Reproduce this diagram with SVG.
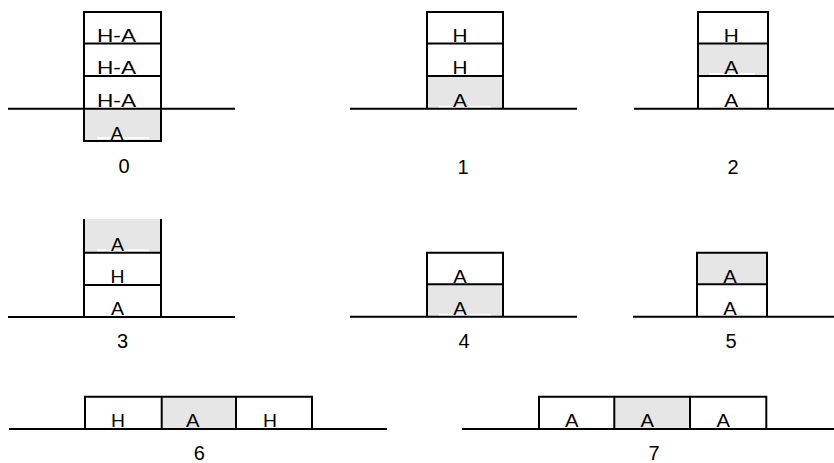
<svg xmlns="http://www.w3.org/2000/svg" width="834" height="463" viewBox="0 0 834 463">
<style>
.bg{fill:#ffffff}
.sh{fill:#e6e6e6;stroke:none}
.ln{stroke:#000;stroke-width:2;fill:none}
.t{font-family:"Liberation Sans",Arial,sans-serif;font-size:19px;fill:#000;text-anchor:middle}
.lb{font-family:"Liberation Sans",Arial,sans-serif;font-size:20px;fill:#000;text-anchor:middle}
.wb{fill:#fff}
</style>
<rect class="bg" x="0" y="0" width="834" height="463"/>

<g id="fig0">
<rect class="sh" x="84" y="109" width="77" height="32"/>
<rect class="wb" x="97" y="137" width="52" height="2"/>
<rect class="ln" x="84" y="12" width="77" height="129"/>
<line class="ln" x1="84" y1="43.5" x2="161" y2="43.5"/>
<line class="ln" x1="84" y1="76" x2="161" y2="76"/>
<line class="ln" x1="8" y1="108.7" x2="235" y2="108.7"/>
<text class="t" x="116.5" y="41.5" textLength="39" lengthAdjust="spacingAndGlyphs">H-A</text>
<text class="t" x="116.5" y="74" textLength="39" lengthAdjust="spacingAndGlyphs">H-A</text>
<text class="t" x="116.5" y="106.5" textLength="39" lengthAdjust="spacingAndGlyphs">H-A</text>
<text class="t" x="117" y="139.5" textLength="13" lengthAdjust="spacingAndGlyphs">A</text>
<text class="lb" x="124" y="173">0</text>
</g>

<g id="fig1">
<rect class="sh" x="427" y="76" width="76" height="32.7"/>
<rect class="wb" x="439" y="106" width="52" height="2"/>
<polyline class="ln" points="427,108.7 427,12 503,12 503,108.7"/>
<line class="ln" x1="427" y1="43.5" x2="503" y2="43.5"/>
<line class="ln" x1="427" y1="76" x2="503" y2="76"/>
<line class="ln" x1="350" y1="108.7" x2="577" y2="108.7"/>
<text class="t" x="460" y="41.5" textLength="15" lengthAdjust="spacingAndGlyphs">H</text>
<text class="t" x="460" y="74" textLength="15" lengthAdjust="spacingAndGlyphs">H</text>
<text class="t" x="460" y="106.5" textLength="14" lengthAdjust="spacingAndGlyphs">A</text>
<text class="lb" x="463" y="174">1</text>
</g>

<g id="fig2">
<rect class="sh" x="698" y="43.5" width="70" height="32.5"/>
<rect class="wb" x="709" y="73" width="46" height="2"/>
<polyline class="ln" points="698,108.7 698,12 768,12 768,108.7"/>
<line class="ln" x1="698" y1="43.5" x2="768" y2="43.5"/>
<line class="ln" x1="698" y1="76" x2="768" y2="76"/>
<line class="ln" x1="634" y1="108.7" x2="834" y2="108.7"/>
<text class="t" x="731.3" y="41.5" textLength="15" lengthAdjust="spacingAndGlyphs">H</text>
<text class="t" x="731.3" y="74" textLength="14" lengthAdjust="spacingAndGlyphs">A</text>
<text class="t" x="731.3" y="106.5" textLength="14" lengthAdjust="spacingAndGlyphs">A</text>
<text class="lb" x="733" y="174">2</text>
</g>

<g id="fig3">
<rect class="sh" x="84" y="219" width="77" height="33.7"/>
<rect class="wb" x="97" y="249.5" width="52" height="2"/>
<line class="ln" x1="84" y1="219" x2="84" y2="317"/>
<line class="ln" x1="161" y1="219" x2="161" y2="317"/>
<line class="ln" x1="84" y1="252.7" x2="161" y2="252.7"/>
<line class="ln" x1="84" y1="285" x2="161" y2="285"/>
<line class="ln" x1="8" y1="317" x2="235" y2="317"/>
<text class="t" x="117.5" y="250.5" textLength="13" lengthAdjust="spacingAndGlyphs">A</text>
<text class="t" x="117.5" y="283" textLength="14" lengthAdjust="spacingAndGlyphs">H</text>
<text class="t" x="117.5" y="315" textLength="13" lengthAdjust="spacingAndGlyphs">A</text>
<text class="lb" x="122.5" y="348">3</text>
</g>

<g id="fig4">
<rect class="sh" x="427" y="284.3" width="76" height="32.4"/>
<rect class="wb" x="439" y="314" width="52" height="2"/>
<polyline class="ln" points="427,316.7 427,252.7 503,252.7 503,316.7"/>
<line class="ln" x1="427" y1="284.3" x2="503" y2="284.3"/>
<line class="ln" x1="350" y1="316.7" x2="577" y2="316.7"/>
<text class="t" x="460" y="282.5" textLength="13.5" lengthAdjust="spacingAndGlyphs">A</text>
<text class="t" x="460" y="315" textLength="13.5" lengthAdjust="spacingAndGlyphs">A</text>
<text class="lb" x="464" y="348">4</text>
</g>

<g id="fig5">
<rect class="sh" x="697" y="252.7" width="70" height="31.6"/>
<polyline class="ln" points="697,316.7 697,252.7 767,252.7 767,316.7"/>
<line class="ln" x1="697" y1="284.3" x2="767" y2="284.3"/>
<line class="ln" x1="633" y1="316.7" x2="834" y2="316.7"/>
<text class="t" x="730" y="282.5" textLength="13.5" lengthAdjust="spacingAndGlyphs">A</text>
<text class="t" x="730" y="315" textLength="13.5" lengthAdjust="spacingAndGlyphs">A</text>
<text class="lb" x="731" y="348">5</text>
</g>

<g id="fig6">
<rect class="sh" x="161.7" y="396.7" width="74.3" height="32.3"/>
<polyline class="ln" points="85,429 85,396.7 312,396.7 312,429"/>
<line class="ln" x1="161.7" y1="396.7" x2="161.7" y2="429"/>
<line class="ln" x1="236" y1="396.7" x2="236" y2="429"/>
<line class="ln" x1="9" y1="429" x2="387" y2="429"/>
<text class="t" x="118" y="427" textLength="14" lengthAdjust="spacingAndGlyphs">H</text>
<text class="t" x="192.7" y="427" textLength="13.5" lengthAdjust="spacingAndGlyphs">A</text>
<text class="t" x="270" y="427" textLength="14" lengthAdjust="spacingAndGlyphs">H</text>
<text class="lb" x="199.3" y="460">6</text>
</g>

<g id="fig7">
<rect class="sh" x="614.3" y="396.7" width="75.7" height="32.3"/>
<polyline class="ln" points="539,429 539,396.7 766.3,396.7 766.3,429"/>
<line class="ln" x1="614.3" y1="396.7" x2="614.3" y2="429"/>
<line class="ln" x1="690" y1="396.7" x2="690" y2="429"/>
<line class="ln" x1="462" y1="429" x2="834" y2="429"/>
<text class="t" x="571.7" y="427" textLength="13.5" lengthAdjust="spacingAndGlyphs">A</text>
<text class="t" x="647.3" y="427" textLength="13.5" lengthAdjust="spacingAndGlyphs">A</text>
<text class="t" x="723.3" y="427" textLength="13.5" lengthAdjust="spacingAndGlyphs">A</text>
<text class="lb" x="654" y="460">7</text>
</g>
</svg>
